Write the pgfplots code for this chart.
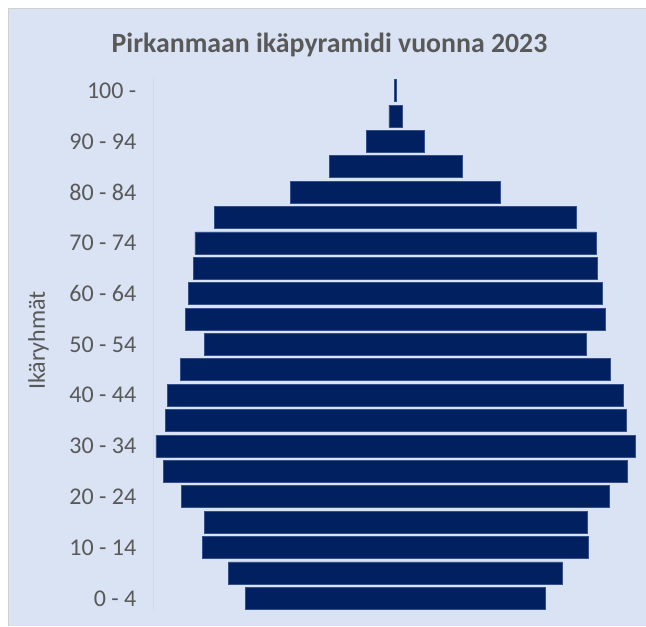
\documentclass[border=0pt]{standalone}
\usepackage{pgfplots}
\pgfplotsset{compat=1.18}
\usepackage{pgfplotstable}
\usepackage{fontspec}
\setmainfont{Carlito}
\definecolor{bgblue}{HTML}{DAE3F3}
\definecolor{barblue}{HTML}{002060}
\definecolor{baredge}{HTML}{34508C}
\definecolor{txtgray}{HTML}{595959}
\definecolor{axgray}{HTML}{D9D9D9}
\definecolor{shadow}{HTML}{D0D0D0}
\pgfplotstableread{
i v
0 23000
1 25600
2 29700
3 29400
4 32900
5 35600
6 36800
7 35400
8 35000
9 33000
10 29300
11 32300
12 31800
13 31000
14 30800
15 27800
16 16100
17 10200
18 4450
19 1000
20 120
}\pyramid
\begin{document}
\begin{tikzpicture}
\useasboundingbox (0,0) rectangle (323pt,313pt);
\fill[bgblue] (4pt,0) rectangle (323pt,308.9pt);
\draw[shadow,line width=0.5pt] (4pt,0) -- (4pt,308.9pt) -- (323pt,308.9pt);
\begin{axis}[
  at={(76.75pt,7.5pt)}, anchor=south west,
  scale only axis, width=242pt, height=266.5pt,
  xmin=0, xmax=37170,
  ymin=-0.5, ymax=20.5,
  xbar stacked, bar width=0.867,
  axis x line=none,
  axis y line*=left,
  y axis line style={axgray, line width=0.6pt},
  ytick={0,2,...,20},
  yticklabels={0 - 4,10 - 14,20 - 24,30 - 34,40 - 44,50 - 54,60 - 64,70 - 74,80 - 84,90 - 94,100 -},
  major tick length=0pt,
  yticklabel style={font=\fontsize{12pt}{14pt}\selectfont, text=txtgray, inner sep=0pt, anchor=east, xshift=-8.4pt},
  title={Pirkanmaan ikäpyramidi vuonna 2023},
  every axis title/.style={at={(axis description cs:0.3636,1.0482)}, anchor=base, inner sep=0pt, font=\fontsize{13.9pt}{16pt}\selectfont\bfseries, text=txtgray},
  ylabel={Ikäryhmät},
  ylabel style={at={(axis description cs:-0.2242,0.5075)}, anchor=base, inner sep=0pt, font=\fontsize{12pt}{14pt}\selectfont, text=txtgray},
  clip=false,
]
\addplot[draw=none, fill=none, forget plot] table[y=i, x expr={18585-\thisrow{v}/2}] {\pyramid};
\addplot[fill=barblue, draw=baredge, line width=0.4pt] table[y=i, x=v] {\pyramid};
\end{axis}
\end{tikzpicture}
\end{document}
